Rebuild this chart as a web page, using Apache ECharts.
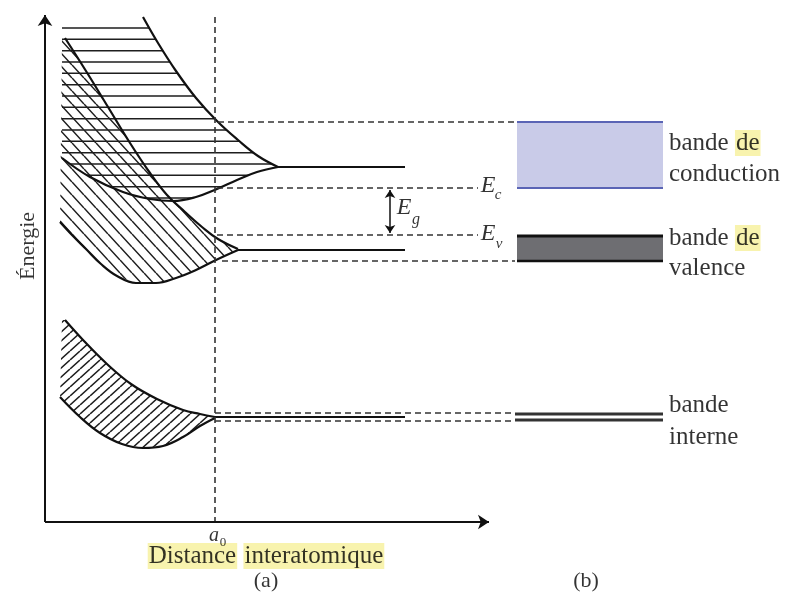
<!DOCTYPE html>
<html><head><meta charset="utf-8">
<script src="https://cdn.jsdelivr.net/npm/echarts@6/dist/echarts.min.js"></script>
<style>html,body{margin:0;padding:0;background:#fff}#c{width:790px;height:594px}</style>
</head><body><div id="c"></div>
<script>
// ---- diagram data (in chart units) ----
const condUpper  = [[143,17],[158,43],[176,71],[196,98],[217,121],[238,140],[258,156],[278,167]];
const condLower  = [[62,158],[90,177],[123,192],[150,199],[173,201],[196,197],[217,189],[237,180],[257,172],[278,167]];
const valUpper   = [[65,38],[86,71],[108,107],[130,143],[150,173],[167,195],[185,212],[202,227],[218,239],[238,249]];
const valLower   = [[60,222],[72,235],[86,249],[101,264],[117,276],[136,283],[156,283],[176,278],[196,270],[216,260],[238,250]];
const innerUpper = [[65,320],[84,341],[107,364],[131,384],[157,399],[183,410],[200,414],[215,417]];
const innerLower = [[60,397],[80,417],[100,433],[122,444],[143,448],[163,446],[183,437],[200,426],[215,418]];
const levelLines = [[[278,167],[405,167]], [[238,250],[405,250]], [[215,417],[405,417]]];
const dashedLines = [
  [[215,17],[215,522]],
  [[218,122],[515,122]],
  [[217,188],[478,188]],
  [[217,235],[478,235]],
  [[222,261],[515,261]],
  [[215,413],[515,413]],
  [[215,421],[515,421]]
];
const axisLines = [[[45,522],[45,15]], [[45,522],[489,522]]];
const gapArrow = [[390,190],[390,233]];
const condBox = [[517,122],[663,188]];
const valBox = [[517,236],[663,261]];
const innerLevels = [[[515,414],[663,414]], [[515,420],[663,420]]];
const bandLabels = ['bande {hl|de}', 'conduction', 'bande {hl|de}', 'valence', 'bande', 'interne'];
const axisTitles = ['Énergie', '{hl|Distance} {hl|interatomique}'];
const panelLabels = ['(a)', '(b)'];

// ---- hatch patterns ----
function hatchTile(w, h, kind, lines) {
  const c = document.createElement('canvas'); c.width = w; c.height = h;
  const g = c.getContext('2d'); g.strokeStyle = '#1e1e1e'; g.lineWidth = 1.5;
  g.beginPath();
  if (kind === 'h') { lines.forEach(y => { g.moveTo(0, y); g.lineTo(w, y); }); }
  else if (kind === 'back') { for (let k = -1; k <= 1; k++) { g.moveTo(k*w, 0); g.lineTo(k*w + w, h); } }
  else { for (let k = -1; k <= 1; k++) { g.moveTo(k*w, h); g.lineTo(k*w + w, 0); } }
  g.stroke(); return c;
}
const patH = {image: hatchTile(20, 34, 'h', [5.33, 16.67, 28]), repeat: 'repeat'};
const patBack = {image: hatchTile(12, 13, 'back'), repeat: 'repeat'};
const patFwd = {image: hatchTile(10, 9, 'fwd'), repeat: 'repeat'};

const condPoly = [[62,27],[149,27]].concat(condUpper.filter(p => p[1] > 27), condLower.slice().reverse().slice(1));
const valPoly = [[62,38]].concat(valUpper, valLower.slice().reverse().slice(1));
const innerPoly = [[62,320]].concat(innerUpper, innerLower.slice().reverse().slice(1));

function polySeries(poly, pat) {
  return {
    type: 'custom', silent: true, clip: false, data: [[0, 0]], z: 1,
    renderItem: (params, api) => ({
      type: 'polygon',
      shape: {points: poly.map(p => api.coord(p))},
      style: {fill: pat, stroke: null}
    })
  };
}
function rectSeries(box, fill) {
  return {
    type: 'custom', silent: true, clip: false, data: [[0, 0]], z: 1,
    renderItem: (params, api) => {
      const a = api.coord(box[0]), b = api.coord(box[1]);
      return {type: 'rect', shape: {x: a[0], y: a[1], width: b[0]-a[0], height: b[1]-a[1]}, style: {fill: fill}};
    }
  };
}
function lineSeries(data, style, smooth) {
  return {type: 'line', data: data, smooth: smooth ? 0.4 : false,
    showSymbol: false, symbol: 'none', silent: true, z: 3, lineStyle: style, animation: false};
}

const ink = '#111';
const serif = '"Liberation Serif", "DejaVu Serif", serif';
const hl = {backgroundColor: '#f6f09a', padding: [1, 1, 0, 1]};

function txt(x, y, text, opt) {
  return {value: [x, y], label: Object.assign({show: true, formatter: text, position: [0, 0],
    fontFamily: serif, color: '#000', fontSize: 25, align: 'left', verticalAlign: 'middle', rich: {hl: hl}}, opt)};
}
const hlRich = {hl: Object.assign({fontSize: 25, fontFamily: serif, color: '#000'}, hl)};
const texts = [
  txt(28, 246, axisTitles[0], {fontSize: 22, rotate: 90, align: 'center'}),
  txt(266, 556, axisTitles[1], {align: 'center', rich: hlRich}),
  txt(266, 581, panelLabels[0], {fontSize: 22, align: 'center'}),
  txt(586, 581, panelLabels[1], {fontSize: 22, align: 'center'}),
  txt(214, 536, 'a', {fontSize: 20, fontStyle: 'italic', align: 'center'}),
  txt(223, 543, '0', {fontSize: 13, align: 'center'}),
  txt(404, 208, 'E', {fontSize: 24, fontStyle: 'italic', align: 'center'}),
  txt(416, 220, 'g', {fontSize: 16, fontStyle: 'italic', align: 'center'}),
  txt(488, 186, 'E', {fontSize: 24, fontStyle: 'italic', align: 'center'}),
  txt(498, 195, 'c', {fontSize: 15, fontStyle: 'italic', align: 'center'}),
  txt(488, 234, 'E', {fontSize: 24, fontStyle: 'italic', align: 'center'}),
  txt(499, 244, 'v', {fontSize: 15, fontStyle: 'italic', align: 'center'}),
  txt(669, 143, bandLabels[0], {rich: hlRich}),
  txt(669, 174, bandLabels[1]),
  txt(669, 238, bandLabels[2], {rich: hlRich}),
  txt(669, 268, bandLabels[3]),
  txt(669, 405, bandLabels[4]),
  txt(669, 437, bandLabels[5])
];

const series = [
  polySeries(condPoly, patH),
  polySeries(valPoly, patBack),
  polySeries(innerPoly, patFwd),
  rectSeries(condBox, '#c9cbe8'),
  rectSeries(valBox, '#6e6e72')
];
[condUpper, condLower, valUpper, valLower, innerUpper, innerLower].forEach(c =>
  series.push(lineSeries(c, {color: ink, width: 2.2}, true)));
levelLines.forEach(l => series.push(lineSeries(l, {color: ink, width: 2.2}, false)));
dashedLines.forEach(l => series.push(lineSeries(l, {color: '#333', width: 1.6, type: [6, 4]}, false)));
series.push(lineSeries([[517,122],[663,122]], {color: '#5a64b5', width: 2}, false));
series.push(lineSeries([[517,188],[663,188]], {color: '#5a64b5', width: 2}, false));
series.push(lineSeries([[517,236],[663,236]], {color: '#111', width: 3}, false));
series.push(lineSeries([[517,261],[663,261]], {color: '#111', width: 2.5}, false));
innerLevels.forEach(l => series.push(lineSeries(l, {color: '#333', width: 3}, false)));
series.push({
  type: 'lines', coordinateSystem: 'cartesian2d', silent: true, z: 4,
  symbol: ['none', 'arrow'], symbolSize: 11,
  lineStyle: {color: ink, width: 2, opacity: 1},
  data: axisLines.map(c => ({coords: c}))
});
series.push({
  type: 'lines', coordinateSystem: 'cartesian2d', silent: true, z: 4,
  symbol: ['arrow', 'arrow'], symbolSize: 8,
  lineStyle: {color: ink, width: 1.5, opacity: 1},
  data: [{coords: gapArrow}]
});
series.push({type: 'scatter', symbolSize: 0, silent: true, z: 5, data: texts});

const chart = echarts.init(document.getElementById('c'), null, {renderer: 'canvas'});
chart.setOption({
  animation: false,
  backgroundColor: '#fff',
  grid: {left: 0, right: 0, top: 0, bottom: 0},
  xAxis: {type: 'value', min: 0, max: 790, show: false},
  yAxis: {type: 'value', min: 0, max: 594, inverse: true, show: false},
  series: series
});
</script></body></html>
